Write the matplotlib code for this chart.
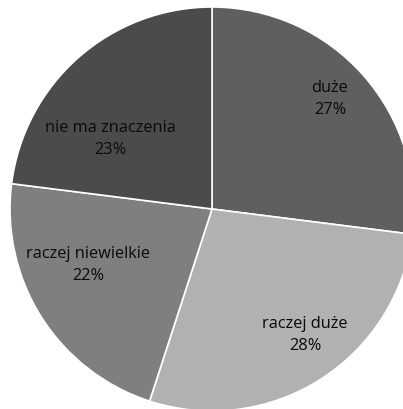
import matplotlib
matplotlib.use("Agg")
import matplotlib.pyplot as plt

categories = ["duże", "raczej duże", "raczej niewielkie", "nie ma znaczenia"]
shares = [27, 28, 22, 23]
pct_labels = ["27%", "28%", "22%", "23%"]

colors = ["#5f5f5f", "#b1b1b1", "#7f7f7f", "#4b4b4b"]
# label anchor points (pixels from the top-left of the figure)
label_xy = [(330, 99), (305, 335), (88, 265), (110, 139)]

W, H = 403, 410
fig = plt.figure(figsize=(W / 100, H / 100), dpi=100)
ax = fig.add_axes([0, 0, 1, 1])

# y axis runs downward, so start at -90 and sweep counter-clockwise in data
# coordinates to go clockwise from the top on screen
cx, cy, r = 212, 210, 202
wedges, _ = ax.pie(shares, colors=colors, startangle=-90, counterclock=True,
                   center=(cx, cy), radius=r, frame=True,
                   wedgeprops=dict(edgecolor="white", linewidth=1.2))
ax.set_xlim(0, W)
ax.set_ylim(H, 0)
ax.set_aspect("equal")
ax.axis("off")

for name, pct, (x, y) in zip(categories, pct_labels, label_xy):
    ax.text(x, y, f"{name}\n{pct}", ha="center", va="center", fontsize=11.8,
            family="Open Sans", color="#0a0a0a", linespacing=1.5)

fig.savefig("out.png", dpi=100)
